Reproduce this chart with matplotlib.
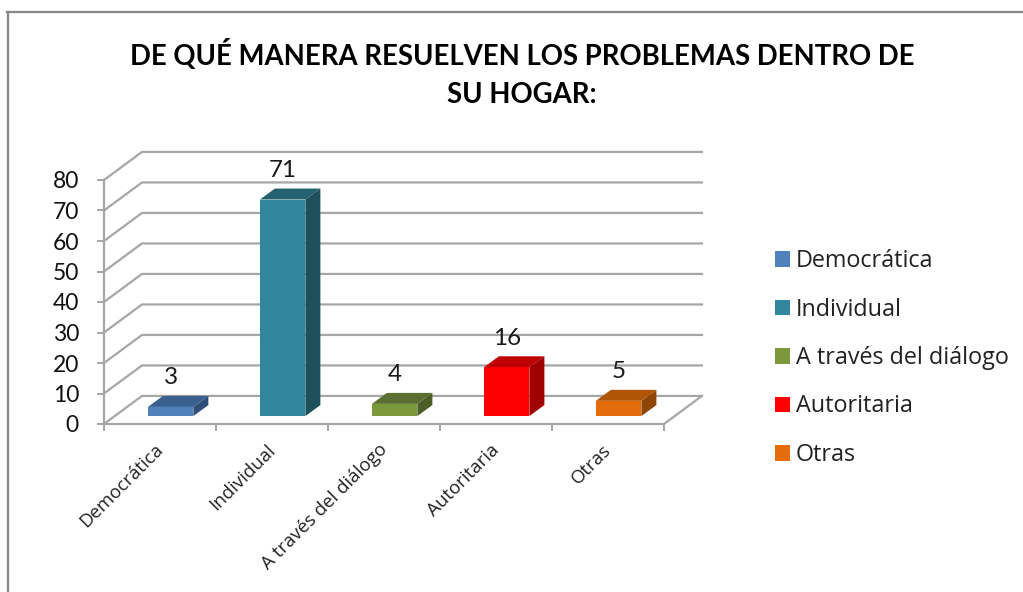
import matplotlib
matplotlib.use("Agg")
import matplotlib.pyplot as plt
from matplotlib.patches import Patch
from matplotlib.lines import Line2D

categorias = ["Democrática", "Individual", "A través del diálogo", "Autoritaria", "Otras"]
valores = [3, 71, 4, 16, 5]
y_ticks = [0, 10, 20, 30, 40, 50, 60, 70, 80]
titulo = "DE QUÉ MANERA RESUELVEN LOS PROBLEMAS DENTRO DE\nSU HOGAR:"

col_frente = ["#4F81BD", "#31859C", "#7B983B", "#FF0000", "#E46C0A"]
col_arriba = ["#3A6090", "#24626F", "#5A6F30", "#C00000", "#B05405"]
col_lado = ["#2F4F78", "#1E505C", "#4B5E27", "#A00000", "#8F4504"]

GRIS = "#A6A6A6"
W, H = 1023, 592
plt.rcParams["font.family"] = ["Lato", "DejaVu Sans"]

fig = plt.figure(figsize=(W / 100, H / 100), dpi=100)
ax = fig.add_axes([104 / W, (H - 424) / H, 560 / W, 244 / H])
ax.set_xlim(0, 5)
ax.set_ylim(0, 80)
ax.patch.set_visible(False)

# profundidad del falso 3D, en unidades de datos
dx, dy = 0.339, 9.2
bar_dx, bar_dy = 0.134, 3.6
off_x, off_y = 0.095, 2.6
ancho = 0.406

# paredes
for v in y_ticks:
    ax.plot([0, dx, 5 + dx], [v, v + dy, v + dy], color=GRIS, lw=1.6, clip_on=False, zorder=1)
ax.plot([5, 5 + dx], [0, dy], color=GRIS, lw=1.6, clip_on=False, zorder=1)

# barras
xs = [i + 0.5 + off_x for i in range(len(valores))]
ax.bar(xs, valores, width=ancho, bottom=off_y, color=col_frente, zorder=3, clip_on=False)
for x, v, c_a, c_l in zip(xs, valores, col_arriba, col_lado):
    x0, x1 = x - ancho / 2, x + ancho / 2
    top = v + off_y
    ax.fill([x0, x1, x1 + bar_dx, x0 + bar_dx], [top, top, top + bar_dy, top + bar_dy],
            color=c_a, lw=0, zorder=3, clip_on=False)
    ax.fill([x1, x1 + bar_dx, x1 + bar_dx, x1], [off_y, off_y + bar_dy, top + bar_dy, top],
            color=c_l, lw=0, zorder=3, clip_on=False)
    ax.text(x, top + 9.5, str(v), ha="center", va="center", fontsize=17.5,
            color="#1a1a1a", zorder=4, clip_on=False)

# ejes
for s in ["top", "right"]:
    ax.spines[s].set_visible(False)
for s in ["left", "bottom"]:
    ax.spines[s].set_color(GRIS)
    ax.spines[s].set_linewidth(1.6)
ax.set_yticks(y_ticks)
ax.tick_params(axis="y", labelsize=16.5, length=5, width=1.4, color=GRIS, labelcolor="#111111", pad=13)
ax.set_xticks(range(6))
ax.set_xticklabels([])
ax.tick_params(axis="x", which="major", length=5, width=1.4, color=GRIS)
ax.set_xticks([i + 0.45 for i in range(5)], minor=True)
ax.set_xticklabels(categorias, minor=True, rotation=45, ha="right", rotation_mode="anchor",
                   fontsize=13.4, color="#222222", fontfamily="Open Sans")
ax.tick_params(axis="x", which="minor", length=0, pad=12)

fig.text(522 / W, 1 - 73.5 / H, titulo, ha="center", va="center", fontsize=19.8,
         fontweight="bold", color="black", linespacing=1.58)

handles = [Patch(facecolor=c, edgecolor="none") for c in col_frente]
fig.legend(handles, categorias, loc="center left", bbox_to_anchor=(775 / W, 1 - 358 / H),
           frameon=False, prop={"family": "Open Sans", "size": 16.8}, handlelength=0.64,
           handleheight=0.64, handletextpad=0.26, labelspacing=1.05, labelcolor="#222222",
           borderpad=0, borderaxespad=0)

# borde del grafico, cortado por la imagen
borde = "#868686"
fig.add_artist(Line2D([7.5 / W, 7.5 / W], [0, 1 - 12 / H], color=borde, lw=1.6))
fig.add_artist(Line2D([7 / W, 1], [1 - 12 / H, 1 - 12 / H], color=borde, lw=1.6))

fig.savefig("out.png", dpi=100)
